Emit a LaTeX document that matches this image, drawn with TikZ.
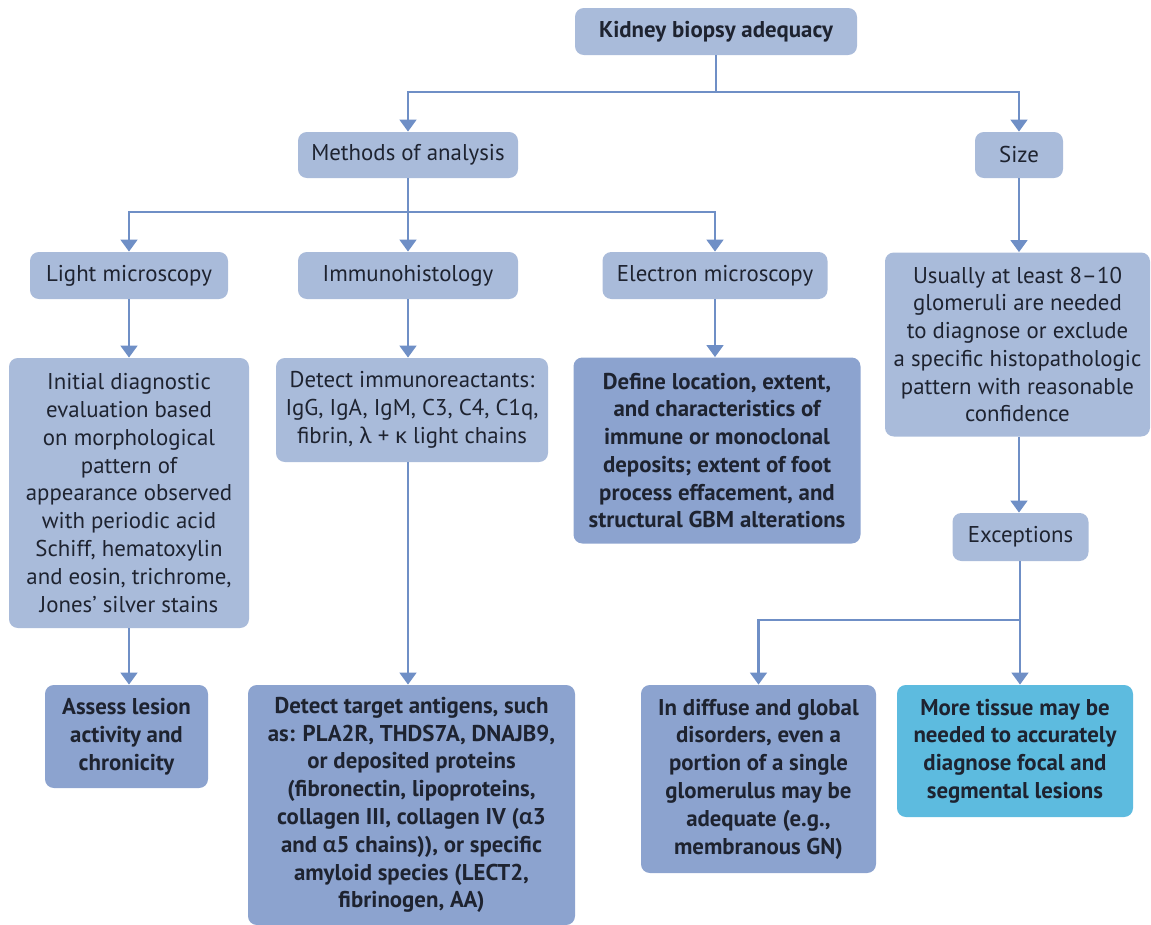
\documentclass[tikz,border=0pt]{standalone}
\usepackage{fontspec}
\setmainfont{PT Sans}
\newfontfamily\greekfont{Lato}
\newcommand{\grk}[1]{{\greekfont #1}}
\usetikzlibrary{arrows.meta, positioning}

\definecolor{boxlight}{HTML}{A9BBDA}
\definecolor{boxdark}{HTML}{8CA3CF}
\definecolor{boxcyan}{HTML}{5DBBDF}
\definecolor{linkblue}{HTML}{6F8FC6}
\definecolor{inkdark}{HTML}{1E2330}

\begin{document}
\begin{tikzpicture}[
    every node/.style={font=\fontsize{13}{15.8}\selectfont, text=inkdark},
    stage/.style={rounded corners=5pt, fill=boxlight, align=center, inner sep=2pt},
    detail/.style={stage, fill=boxdark, font=\fontsize{13}{15.8}\selectfont\bfseries},
    link/.style={line width=1.7pt, draw=linkblue},
    arr/.style={link, -{Triangle[length=2.4mm, width=3.3mm]}}
  ]

\useasboundingbox (0,0) rectangle (23.02,-18.5);

% Top level
\node[stage, font=\fontsize{13}{15.8}\selectfont\bfseries, minimum width=5.64cm, minimum height=0.94cm]
  (biopsy) at (14.32,-0.63) {Kidney biopsy adequacy};

% Second level
\node[stage, minimum width=4.4cm, minimum height=0.92cm] (methods) at (8.16,-3.10) {Methods of analysis};
\node[stage, minimum width=1.76cm, minimum height=0.92cm] (size) at (20.38,-3.10) {Size};

% Methods
\node[stage, minimum width=3.96cm, minimum height=0.94cm] (light) at (2.58,-5.51) {Light microscopy};
\node[stage, minimum width=4.4cm, minimum height=0.94cm] (immuno) at (8.16,-5.51) {Immunohistology};
\node[stage, minimum width=4.5cm, minimum height=0.94cm] (electron) at (14.30,-5.51) {Electron microscopy};

% Descriptions
\node[stage, minimum width=4.8cm, minimum height=5.4cm] (lightdesc) at (2.58,-9.86)
  {Initial diagnostic\\evaluation based\\on morphological\\pattern of\\appearance observed\\with periodic acid\\Schiff, hematoxylin\\and eosin, trichrome,\\Jones' silver stains};
\node[stage, minimum width=5.44cm, minimum height=2.08cm] (immunodesc) at (8.24,-8.20)
  {Detect immunoreactants:\\IgG, IgA, IgM, C3, C4, C1q,\\fibrin, \grk{λ} + \grk{κ} light chains};
\node[detail, minimum width=5.74cm, minimum height=3.72cm] (electrondesc) at (14.34,-9.01)
  {Define location, extent,\\and characteristics of\\immune or monoclonal\\deposits; extent of foot\\process effacement, and\\structural GBM alterations};
\node[stage, minimum width=5.3cm, minimum height=3.68cm] (sizedesc) at (20.35,-6.89)
  {Usually at least 8–10\\glomeruli are needed\\to diagnose or exclude\\a specific histopathologic\\pattern with reasonable\\confidence};

% Bottom row
\node[detail, minimum width=3.26cm, minimum height=2.06cm] (assess) at (2.53,-14.73)
  {Assess lesion\\activity and\\chronicity};
\node[detail, minimum width=6.54cm, minimum height=4.8cm] (antigens) at (8.23,-16.10)
  {Detect target antigens, such\\as: PLA2R, THDS7A, DNAJB9,\\or deposited proteins\\(fibronectin, lipoproteins,\\collagen III, collagen IV (\grk{α}3\\and \grk{α}5 chains)), or specific\\amyloid species (LECT2,\\fibrinogen, AA)};
\node[stage, minimum width=2.72cm, minimum height=0.96cm] (exceptions) at (20.41,-10.74) {Exceptions};
\node[detail, minimum width=4.7cm, minimum height=3.76cm] (diffuse) at (15.17,-15.58)
  {In diffuse and global\\disorders, even a\\portion of a single\\glomerulus may be\\adequate (e.g.,\\membranous GN)};
\node[detail, fill=boxcyan, minimum width=4.72cm, minimum height=2.64cm] (moretissue) at (20.30,-15.02)
  {More tissue may be\\needed to accurately\\diagnose focal and\\segmental lesions};

% Branch points
\coordinate (split1) at (14.32,-1.84);
\coordinate (split2) at (8.16,-4.24);
\coordinate (split3) at (20.40,-12.40);

% Connectors
\draw[link] (biopsy) -- (split1);
\draw[arr] (split1) -| (methods);
\draw[arr] (split1) -| (size);

\draw[link] (methods) -- (split2);
\draw[arr] (split2) -| (light);
\draw[arr] (split2) -- (immuno);
\draw[arr] (split2) -| (electron);

\draw[arr] (light) -- (light |- lightdesc.north);
\draw[arr] (immuno) -- (immuno |- immunodesc.north);
\draw[arr] (electron) -- (electron |- electrondesc.north);
\draw[arr] (size) -- (size |- sizedesc.north);

\draw[arr] (lightdesc.south -| light) -- (light |- assess.north);
\draw[arr] (immunodesc.south -| immuno) -- (immuno |- antigens.north);
\draw[arr] (sizedesc.south -| size) -- (size |- exceptions.north);

\draw[link] (exceptions.south -| split3) -- (split3);
\draw[arr] (split3) -| (diffuse);
\draw[arr] (split3) -- (split3 |- moretissue.north);

\end{tikzpicture}
\end{document}
